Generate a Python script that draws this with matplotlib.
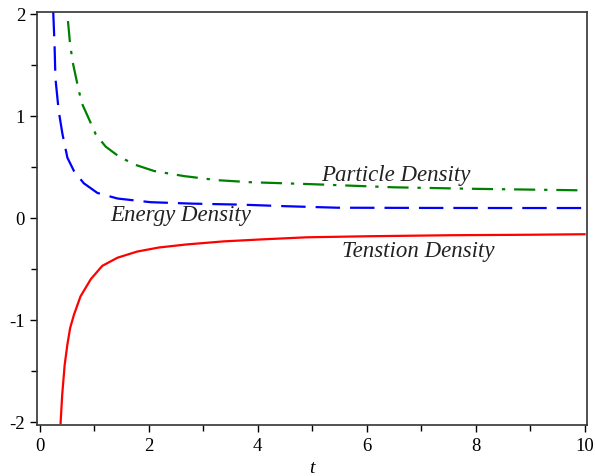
import matplotlib
matplotlib.use('Agg')
import matplotlib.pyplot as plt
from matplotlib.ticker import MultipleLocator

# values
t_energy = [0.25, 0.275, 0.29, 0.35, 0.42, 0.51, 0.63, 0.81, 1.06, 1.43, 2.04, 2.8, 3.7, 4.5, 5.46, 7.0, 8.5, 10.0]
energy = [2.02, 1.68, 1.37, 1.05, 0.82, 0.59, 0.46, 0.34, 0.245, 0.19, 0.154, 0.14, 0.13, 0.115, 0.10, 0.098, 0.097, 0.097]

t_particle = [0.52, 0.56, 0.61, 0.69, 0.77, 0.88, 1.03, 1.21, 1.46, 1.76, 2.10, 2.65, 3.26, 3.87, 5.03, 6.5, 8.0, 10.0]
particle = [1.93, 1.70, 1.52, 1.32, 1.13, 1.00, 0.82, 0.70, 0.60, 0.52, 0.46, 0.41, 0.37, 0.35, 0.33, 0.30, 0.285, 0.27]

t_tension = [0.385, 0.415, 0.46, 0.51, 0.56, 0.63, 0.75, 0.94, 1.15, 1.43, 1.79, 2.19, 2.7, 3.38, 4.1, 4.91, 6.0, 7.5, 9.0, 10.0]
tension = [-2.01, -1.73, -1.44, -1.24, -1.08, -0.95, -0.77, -0.60, -0.47, -0.39, -0.33, -0.29, -0.26, -0.23, -0.21, -0.19, -0.18, -0.17, -0.165, -0.16]

x_ticks = [0, 2, 4, 6, 8, 10]
y_ticks = [-2, -1, 0, 1, 2]

serif = ['Liberation Serif', 'DejaVu Serif']
plt.rcParams['axes.unicode_minus'] = False

fig = plt.figure(figsize=(5.95, 4.77), dpi=100)
ax = fig.add_axes([0.062, 0.107, 0.925, 0.866])

ax.plot(t_tension, tension, color='#ff0000', lw=1.6, solid_joinstyle='round')
ax.plot(t_energy, energy, color='#0000ff', lw=1.6, dashes=(11, 4.5))
ax.plot(t_particle, particle, color='#008000', lw=1.6, dashes=(9.5, 4, 1.5, 4))

ax.set_xlim(-0.05, 10.05)
ax.set_ylim(-2.03, 2.02)
ax.set_xticks(x_ticks)
ax.set_yticks(y_ticks)
ax.xaxis.set_minor_locator(MultipleLocator(1))
ax.yaxis.set_minor_locator(MultipleLocator(0.5))
ax.tick_params(which='both', direction='out', width=1, colors='black', labelsize=13.5)
ax.tick_params(which='major', length=5)
ax.tick_params(which='minor', length=4)
for lab in ax.get_xticklabels() + ax.get_yticklabels():
    lab.set_family(serif)
for sp in ax.spines.values():
    sp.set_linewidth(1.2)
    sp.set_color('#333333')

ax.set_xlabel('t', family=serif, style='italic', fontsize=14, labelpad=4)

lab_kw = dict(family=serif, style='italic', fontsize=16.5, color='#222222', ha='center', va='center')
ax.text(6.53, 0.43, 'Particle Density', **lab_kw)
ax.text(2.59, 0.03, 'Energy Density', **lab_kw)
ax.text(6.95, -0.32, 'Tenstion Density', **lab_kw)

fig.savefig('out.png', dpi=100)
